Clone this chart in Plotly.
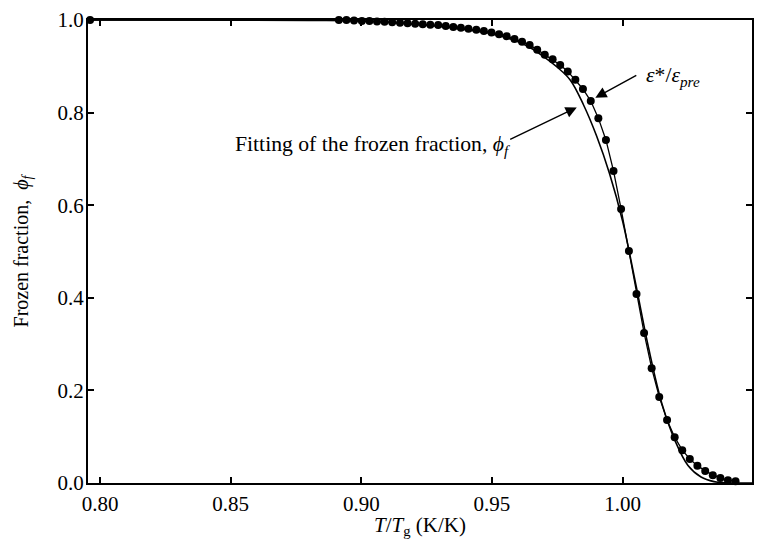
import plotly.graph_objects as go

# measured data: epsilon*/epsilon_pre
data_x = [0.7962,
          0.8914, 0.8943, 0.8972, 0.9002, 0.9031, 0.9060, 0.9089, 0.9118, 0.9148, 0.9177,
          0.9206, 0.9235, 0.9264, 0.9294, 0.9323, 0.9352, 0.9381, 0.9410, 0.9440, 0.9469,
          0.9498, 0.9527, 0.9556, 0.9586, 0.9615, 0.9644, 0.9673, 0.9702, 0.9732, 0.9761,
          0.9790, 0.9819, 0.9848, 0.9878, 0.9907, 0.9936, 0.9965, 0.9994, 1.0024, 1.0053,
          1.0082, 1.0111, 1.0140, 1.0170, 1.0199, 1.0228, 1.0257, 1.0286, 1.0316, 1.0345,
          1.0374, 1.0403, 1.0432]
data_y = [1.000,
          1.000, 1.000, 0.999, 0.998, 0.998, 0.997, 0.996, 0.995, 0.994, 0.993,
          0.992, 0.991, 0.990, 0.989, 0.987, 0.985, 0.983, 0.981, 0.979, 0.976,
          0.973, 0.969, 0.965, 0.959, 0.953, 0.946, 0.936, 0.925, 0.915, 0.903,
          0.889, 0.871, 0.851, 0.825, 0.788, 0.741, 0.674, 0.592, 0.501, 0.408,
          0.324, 0.248, 0.186, 0.136, 0.099, 0.071, 0.052, 0.037, 0.026, 0.017,
          0.011, 0.006, 0.004]

# fitting of the frozen fraction
fit_x = [0.795, 0.85, 0.88, 0.90, 0.91, 0.92, 0.93, 0.94, 0.945, 0.95, 0.955, 0.96,
         0.965, 0.97, 0.975, 0.98, 0.985, 0.99, 0.995, 1.000, 1.005, 1.010, 1.015,
         1.020, 1.025, 1.030, 1.035, 1.040, 1.045, 1.050]
fit_y = [1.000, 1.000, 0.999, 0.998, 0.995, 0.991, 0.986, 0.979, 0.975, 0.970, 0.963, 0.953,
         0.939, 0.920, 0.898, 0.870, 0.817, 0.750, 0.668, 0.565, 0.430, 0.290, 0.172,
         0.092, 0.038, 0.013, 0.003, 0.000, 0.000, 0.000]

x_ticks = [0.80, 0.85, 0.90, 0.95, 1.00, 1.05]
y_ticks = [0.0, 0.2, 0.4, 0.6, 0.8, 1.0]

FONT = "Liberation Serif"
PHI = "\u03d5"

fig = go.Figure()
fig.add_trace(go.Scatter(x=fit_x, y=fit_y, mode="lines", line=dict(color="black", width=1.6, shape="spline"),
                         showlegend=False, hoverinfo="skip"))
fig.add_trace(go.Scatter(x=data_x, y=data_y, mode="lines+markers",
                         line=dict(color="black", width=1.3),
                         marker=dict(color="black", size=8),
                         showlegend=False, cliponaxis=False))

# arrows (offsets in pixels from the tip to the tail)
fig.add_annotation(x=0.9828, y=0.812, ax=-69, ay=33, axref="pixel", ayref="pixel",
                   xref="x", yref="y", text="", showarrow=True,
                   arrowhead=2, arrowsize=1.6, arrowwidth=1.4, arrowcolor="black", standoff=1)
fig.add_annotation(x=0.9882, y=0.828, ax=46, ay=-25, axref="pixel", ayref="pixel",
                   xref="x", yref="y", text="", showarrow=True,
                   arrowhead=2, arrowsize=1.6, arrowwidth=1.4, arrowcolor="black", standoff=4)

fig.add_annotation(xref="paper", yref="paper", x=(512 - 88) / 664, y=(483 - 145) / 463,
                   xanchor="right", yanchor="middle", showarrow=False,
                   text=f"Fitting of the frozen fraction, <i>{PHI}</i><sub><i>f</i></sub>",
                   font=dict(family=FONT, size=21.7, color="black"))
fig.add_annotation(xref="paper", yref="paper", x=(644 - 88) / 664, y=(483 - 77) / 463,
                   xanchor="left", yanchor="middle", showarrow=False,
                   text="<i>ε</i>*/<i>ε</i><sub><i>pre</i></sub>",
                   font=dict(family=FONT, size=21.7, color="black"))

# x-axis title placed as an annotation for exact vertical placement
fig.add_annotation(xref="paper", yref="paper", x=0.5, y=(483 - 526) / 463,
                   xanchor="center", yanchor="middle", showarrow=False,
                   text="<i>T</i>/<i>T</i><sub>g</sub> (K/K)",
                   font=dict(family=FONT, size=21, color="black"))

axis_common = dict(showgrid=False, zeroline=False, showline=True, linecolor="black", linewidth=2,
                   mirror="ticks", ticks="inside", ticklen=6, tickwidth=2, tickcolor="black",
                   automargin=False,
                   tickfont=dict(family=FONT, size=21, color="black"))

fig.update_xaxes(range=[0.7954, 1.0495], tickvals=x_ticks, ticktext=[f"{v:.2f}" for v in x_ticks],
                 ticklabelstandoff=1,
                 **axis_common)
fig.update_yaxes(range=[0, 1.0], tickvals=y_ticks, ticktext=[f"{v:.1f}" for v in y_ticks],
                 ticklabelstandoff=-2,
                 title=dict(text=f"Frozen fraction,  <i>{PHI}</i><sub><i>f</i></sub>", font=dict(family=FONT, size=20, color="black"),
                            standoff=24),
                 **axis_common)

# the page body adds an 8px offset; margins compensate so the plot area sits at x 88-752, y 20-483
fig.update_layout(width=772, height=550, margin=dict(l=80, r=28, t=12, b=75),
                  plot_bgcolor="white", paper_bgcolor="white",
                  font=dict(family=FONT, color="black"))

fig.write_html("out.html")
